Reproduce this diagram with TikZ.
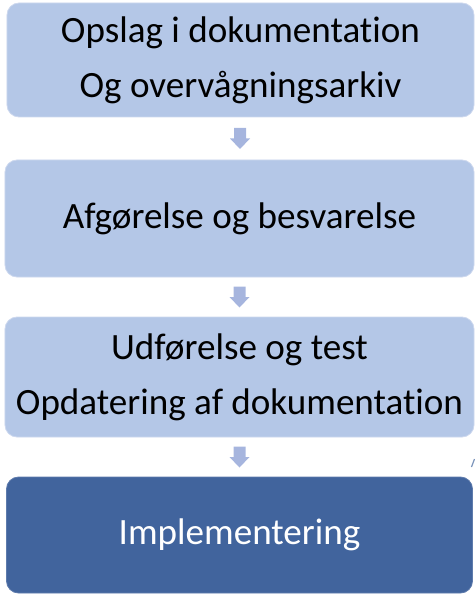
\documentclass[tikz,border=0pt]{standalone}
\usepackage{fontspec}
\setmainfont{Carlito}[Ligatures=NoCommon]
\usetikzlibrary{calc}
\definecolor{boxlight}{RGB}{180,199,231}
\definecolor{boxdark}{RGB}{65,100,157}
\definecolor{arrowfill}{RGB}{166,181,222}
\definecolor{edgeglow}{RGB}{205,216,238}
\tikzset{
  stage/.style={rounded corners=12bp, fill=boxlight, draw=edgeglow, line width=0.8bp,
    align=center, inner sep=0pt, text=black,
    font=\fontsize{37.1bp}{55bp}\selectfont},
  finalstage/.style={stage, fill=boxdark, draw=boxdark!85!white, text=white},
  pics/downarrow/.style={code={
    \fill[arrowfill] (-6,-10.5) -- (6,-10.5) -- (6,0) -- (10,0) -- (0,10.5)
      -- (-10,0) -- (-6,0) -- cycle;}}
}
\begin{document}
\begin{tikzpicture}[x=1bp,y=-1bp]
\useasboundingbox (0,0) rectangle (475,595);
\node[stage, minimum width=467bp, minimum height=114bp] (b1) at (240.5,60)
  {Opslag i dokumentation\\Og overvågningsarkiv};
\node[stage, minimum width=469bp, minimum height=117bp] (b2) at (239.5,218.5)
  {Afgørelse og besvarelse};
\node[stage, minimum width=469bp, minimum height=120bp] (b3) at (239.5,377)
  {Udførelse og test\\Opdatering af dokumentation};
\node[finalstage, minimum width=466bp, minimum height=116bp] (b4) at (239.5,535)
  {Implementering};
% small block arrows between consecutive stages
\coordinate (a1) at ($(b1.south)!0.5!(b2.north)$);
\coordinate (a2) at ($(b2.south)!0.5!(b3.north)$);
\coordinate (a3) at ($(b3.south)!0.5!(b4.north)$);
\pic at (a1) {downarrow};
\pic at (a2) {downarrow};
\pic at (a3) {downarrow};
\draw[boxdark!70!white, line width=1.2bp] (471.5,467) -- (474.5,459);
\end{tikzpicture}
\end{document}
